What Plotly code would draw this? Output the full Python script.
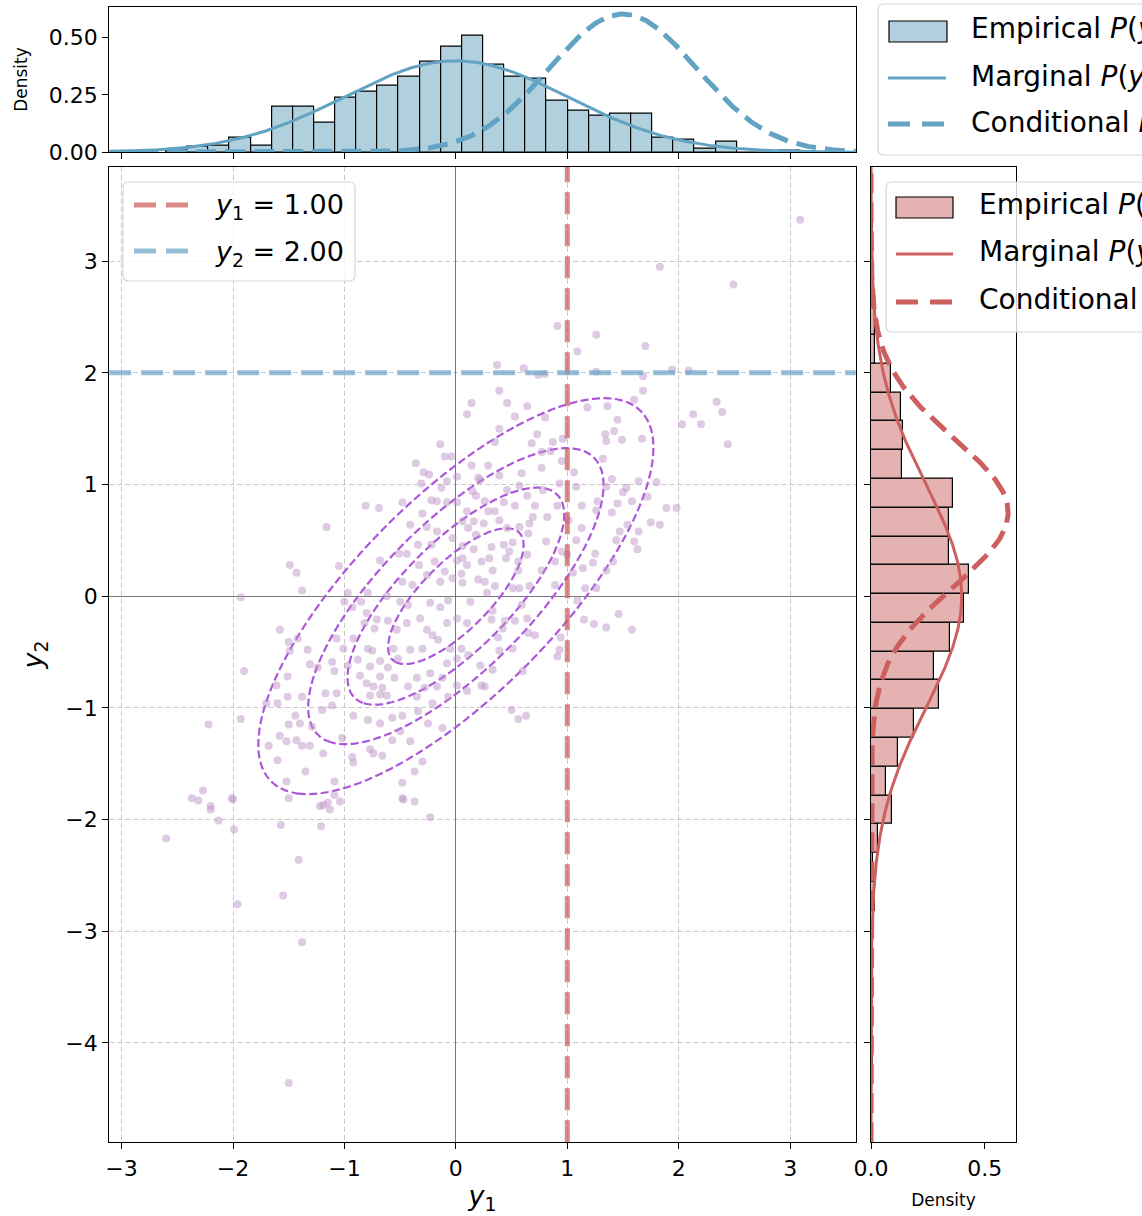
import numpy as np
import plotly.graph_objects as go

# ---------------- data ----------------
rho = 0.75
y1_given = 1.00
y2_given = 2.00

scatter_y1 = [3.09, 1.83, 2.49, 0.91, 1.26,
    1.09, 1.70, 0.37, 0.61, 0.74, 0.80, 1.26, 1.94, 2.09, 1.68, 1.68, 0.39, 1.60, 0.46, 0.64, 1.18, 1.36, 2.34, 2.39, 2.13,
    2.20, 2.03, 2.44, 0.53, 0.80, 1.45, 0.39, 0.73, 1.34, 1.42, 1.35, 1.49, 1.67, 0.35, 0.68, 0.87, 0.96, 0.77, 0.85, 1.32,
    0.95, 0.29, 0.77, 0.59, 1.06, 0.39, 1.40, 1.64, 1.80, 0.93, 1.08, 1.35, 0.22, 0.57, 0.46, 1.50, 1.53, 0.64, 0.78, 1.58,
    1.72, 1.89, 1.98, 0.26, 0.43, 0.71, 0.91, 1.13, 1.27, 1.45, 0.29, 0.35, 0.53, 1.26, 1.40, 0.69, 0.82, 1.01, 0.39, 0.25,
    1.75, 1.83, 1.54, 0.66, 1.13, 0.46, 0.57, 1.64, 1.47, 0.65, 1.44, 1.60, 1.08, 0.81, 0.51, 0.43, 0.32, 1.63, 0.48, 1.25,
    0.64, 0.95, 1.00, 0.45, 0.30, 1.41, 0.23, 1.23, 0.56, 0.89,
    0.14, 0.10, -0.14, -0.10, -0.04, -0.36, 0.14, -0.29, -0.24, 0.01, 0.20, -0.31, -0.08, -0.13, 0.15, -0.22, -0.17, -0.08,
    0.01, 0.18, -0.48, -0.81, -0.69, -0.30, 0.10, -0.41, -0.26, 0.06, 0.16, -1.16, -0.17, -0.03, 0.11, -0.34, -0.22, 0.06,
    0.16, -0.51, -0.44, -0.68, -0.19, 0.01, 0.06, -1.49, -1.05, -0.33, 0.10, 0.18, 0.05, -0.10, 0.20,
    -1.43, -1.38, -1.93, -1.58, -1.50, -1.42, -1.33, -1.49, -1.90, -1.31, -1.24, -1.11, -1.09, -1.51, -1.61, -1.17, -1.07,
    -1.51, -1.38, -1.70, -1.60, -1.11, -1.20, -1.44, -1.93, -2.22, -1.50, -1.40, -1.29, -1.58, -1.43, -1.52, -1.68, -1.38,
    -1.31, -1.19, -1.60, -1.35, -1.52, -1.09, -2.27, -2.01, -1.50, -1.09, -1.15, -2.20, -1.22,
    -1.00, -0.93, -0.85, -0.79, -0.97, -0.62, -0.48, -0.39, -0.26, -0.14, -0.03, 0.06, -0.50, -0.43, -0.23, -0.14, -0.07,
    0.13, -0.80, -0.71, -0.61, -0.82, -0.73, -0.44, -0.32, -0.26, -0.21, -0.16, -0.08, 0.01, 0.10, -0.92, -1.07, -0.53,
    -1.01, -0.79, -0.75, -0.56, -0.41, -0.30, -0.05, 0.05, -0.88, -0.68, -0.52, -0.97, -0.77, -0.61, -0.08, 0.01, 0.11,
    -0.86, -0.68, -0.55, -0.35, -0.23, -0.12, -0.80, -0.74, -0.66, -0.43, -0.28, -0.17, 0.01, 0.10, -0.77, -0.68, -0.62,
    -0.35, -0.21, -0.07, -0.92, -0.79, -0.68, -0.57, -0.48, -0.34, -0.25, -0.12, -0.50, -0.41, -0.57, -1.02, -0.93, -0.77,
    -0.74, -0.92, -0.66, -0.30, -0.37, -0.48, -0.48, -0.37,
    0.33, 0.26, 0.35, 0.51, 0.57, 0.66, 0.89, 0.28, 0.77, 0.56, 1.05, 1.14, 1.35, 1.16, 1.26, 1.09, 0.59, 0.33, 1.46, 0.32,
    0.44, 0.53, 0.64, 1.15, 1.24, 1.35, 1.58, 0.42, 0.65, 0.71, 0.38, 0.94, 0.93, 0.91, 0.39, 0.51, 0.33, 0.60, 0.23, 0.26,
    0.50, 0.56, 0.63, 0.22,
    -2.37, -2.31, -2.20, -2.13, -2.60, -2.00, -1.99, -1.57, -1.19, -1.13, -1.04, -1.21, -1.41, -1.55, -1.96, -1.38, -0.47,
    -0.23, -1.50]

scatter_y2 = [3.37, 2.95, 2.79, 2.42, 2.34,
    2.19, 2.24, 2.07, 2.04, 1.98, 1.99, 2.01, 2.03, 2.02, 1.97, 1.84, 1.84, 1.76, 1.73, 1.70, 1.69, 1.70, 1.74, 1.65, 1.63,
    1.54, 1.54, 1.36, 1.61, 1.60, 1.58, 1.50, 1.45, 1.45, 1.48, 1.39, 1.40, 1.41, 1.38, 1.37, 1.38, 1.41, 1.29, 1.30, 1.23,
    1.21, 1.17, 1.15, 1.10, 1.11, 1.08, 1.05, 1.03, 1.02, 1.01, 0.98, 0.98, 1.04, 0.99, 0.95, 0.93, 0.97, 0.90, 0.95, 0.85,
    0.89, 0.79, 0.79, 0.85, 0.84, 0.81, 0.81, 0.81, 0.85, 0.83, 0.76, 0.76, 0.81, 0.77, 0.75, 0.71, 0.71, 0.68, 0.68, 0.65,
    0.66, 0.64, 0.64, 0.65, 0.61, 0.61, 0.62, 0.58, 0.58, 0.56, 0.50, 0.49, 0.50, 0.49, 0.48, 0.46, 0.44, 0.42, 0.40, 0.38,
    0.37, 0.40, 0.37, 0.34, 0.34, 0.31, 0.31, 0.30, 0.31, 0.31,
    1.73, 1.63, 1.36, 1.25, 1.25, 1.19, 1.17, 1.11, 1.09, 1.07, 1.06, 1.01, 1.03, 0.97, 0.94, 0.86, 0.85, 0.84,
    0.84, 0.90, 0.84, 0.81, 0.79, 0.74, 0.76, 0.64, 0.62, 0.67, 0.67, 0.62, 0.58, 0.52, 0.61, 0.46, 0.46, 0.45,
    0.42, 0.38, 0.38, 0.32, 0.31, 0.32, 0.34, 0.28, 0.27, 0.28, 0.28, 0.55, 0.20, 0.22, 0.15,
    0.21, 0.05, -0.01, -0.30, -0.41, -0.38, -0.48, -0.49, -0.67, -0.61, -0.64, -0.59, -0.67, -0.72, -0.80, -0.87, -0.87,
    -0.90, -0.90, -0.96, -0.96, -0.98, -1.02, -1.07, -1.10, -1.15, -1.15, -1.14, -1.17, -1.25, -1.29, -1.30, -1.34, -1.34,
    -1.34, -1.41, -1.47, -1.57, -1.66, -1.66, -1.74, -1.81, -1.81, -1.78, -1.85, -1.88, -1.88,
    -0.05, -0.10, -0.05, 0.03, 0.03, 0.00, 0.13, 0.10, 0.19, 0.13, 0.16, 0.12, -0.05, -0.08, -0.06, -0.10, -0.04,
    -0.05, -0.15, -0.21, -0.22, -0.24, -0.29, -0.24, -0.20, -0.30, -0.35, -0.39, -0.24, -0.20, -0.24, -0.38, -0.38, -0.30,
    -0.47, -0.47, -0.49, -0.47, -0.48, -0.47, -0.47, -0.47, -0.57, -0.58, -0.56, -0.62, -0.63, -0.64, -0.60, -0.56, -0.53,
    -0.71, -0.72, -0.73, -0.73, -0.69, -0.73, -0.78, -0.81, -0.82, -0.81, -0.82, -0.81, -0.80, -0.85, -0.89, -0.88, -0.89,
    -0.90, -0.96, -0.90, -1.07, -1.11, -1.14, -1.09, -1.07, -1.03, -1.14, -1.18, -1.21, -1.30, -1.29, -1.27, -1.44, -1.37,
    -1.41, -1.49, -1.43, -1.48, -1.57, -1.67, -1.81, -1.84,
    0.23, 0.13, 0.09, 0.07, 0.07, 0.09, 0.10, 0.03, 0.23, 0.23, 0.21, 0.25, 0.23, 0.07, 0.07, -0.04, -0.08, -0.13, -0.16, -0.21,
    -0.22, -0.22, -0.20, -0.21, -0.25, -0.28, -0.30, -0.29, -0.33, -0.35, -0.37, -0.37, -0.48, -0.54, -0.49, -0.47, -0.66, -0.67,
    -0.80, -0.81, -1.02, -1.10, -1.07, -0.62,
    -1.81, -1.83, -1.91, -2.01, -2.17, -1.82, -2.09, -2.05, -1.87, -1.91, -1.84, -2.06, -2.36, -2.68, -2.76, -3.10, -1.82,
    -1.98, -4.36]

# histogram of y1 (top): 30 bins, density
y1_bin_start = -2.60
y1_bin_width = 0.1897
y1_density = [0.008, 0.026, 0.030, 0.065, 0.030, 0.200, 0.200, 0.130, 0.240, 0.265,
              0.290, 0.330, 0.395, 0.460, 0.510, 0.380, 0.330, 0.320, 0.225, 0.180,
              0.160, 0.170, 0.170, 0.065, 0.054, 0.015, 0.046, 0.0, 0.0, 0.008]

# histogram of y2 (right): 30 bins
y2_bin_start = -4.36
y2_bin_width = 0.2577
y2_density = [0.0097, 0.0, 0.0, 0.0, 0.0097, 0.0, 0.019, 0.0097, 0.030, 0.093,
              0.066, 0.117, 0.190, 0.298, 0.276, 0.348, 0.407, 0.431, 0.343, 0.343,
              0.361, 0.137, 0.139, 0.132, 0.090, 0.018, 0.019, 0.0097, 0.0097, 0.0097]

contour_levels = dict(start=0.05, end=0.2001, size=0.05)

y1_ticks = [-3, -2, -1, 0, 1, 2, 3]
y2_ticks = [-4, -3, -2, -1, 0, 1, 2, 3]

# ---------------- styles ----------------
W, H = 1142, 1216
X_RANGE = [-3.111, 3.589]
Y_RANGE = [-4.891, 3.846]
FONT = "DejaVu Sans"
BLUE = "rgb(98,163,196)"
BLUE_FILL = "rgb(175,208,220)"
RED = "rgb(205,95,95)"
RED_FILL = "rgb(229,178,178)"
VLINE_RED = "rgba(205,92,92,0.72)"
HLINE_BLUE = "rgba(110,165,200,0.72)"
PURPLE = "rgb(172,86,218)"
PT = "rgba(190,150,200,0.5)"


def px(x):
    return x / W


def py(y):
    return 1 - y / H


def pdf(v, m=0.0, s=1.0):
    v = np.asarray(v)
    return np.exp(-0.5 * ((v - m) / s) ** 2) / (s * np.sqrt(2 * np.pi))


cond_sd = np.sqrt(1 - rho ** 2)
g1 = np.linspace(X_RANGE[0], X_RANGE[1], 500)
g2 = np.linspace(Y_RANGE[0], Y_RANGE[1], 600)

fig = go.Figure()

# main scatter
fig.add_trace(go.Scatter(x=scatter_y1, y=scatter_y2, mode="markers",
                         marker=dict(size=8, color=PT, line=dict(width=0)),
                         xaxis="x", yaxis="y", showlegend=False))

# contour of joint density
cx = np.linspace(X_RANGE[0], X_RANGE[1], 260)
cy = np.linspace(Y_RANGE[0], Y_RANGE[1], 320)
XX, YY = np.meshgrid(cx, cy)
Z = np.exp(-(XX ** 2 - 2 * rho * XX * YY + YY ** 2) / (2 * (1 - rho ** 2))) / (2 * np.pi * cond_sd)
fig.add_trace(go.Contour(x=cx, y=cy, z=Z, contours=dict(coloring="lines", **contour_levels),
                         colorscale=[[0, PURPLE], [1, PURPLE]], showscale=False,
                         line=dict(width=2.2, dash="8px,3.5px"), xaxis="x", yaxis="y",
                         hoverinfo="skip", showlegend=False))

# reference lines
fig.add_trace(go.Scatter(x=[y1_given, y1_given], y=Y_RANGE, mode="lines",
                         line=dict(color=VLINE_RED, width=5, dash="22px,10px"),
                         xaxis="x", yaxis="y", showlegend=False))
fig.add_trace(go.Scatter(x=X_RANGE, y=[y2_given, y2_given], mode="lines",
                         line=dict(color=HLINE_BLUE, width=5, dash="22px,10px"),
                         xaxis="x", yaxis="y", showlegend=False))

# top histogram + curves
c1 = [y1_bin_start + (i + 0.5) * y1_bin_width for i in range(len(y1_density))]
fig.add_trace(go.Bar(x=c1, y=y1_density, width=y1_bin_width,
                     marker=dict(color=BLUE_FILL, line=dict(color="black", width=1.2)),
                     xaxis="x2", yaxis="y2", showlegend=False))
fig.add_trace(go.Scatter(x=g1, y=pdf(g1), mode="lines", line=dict(color=BLUE, width=3),
                         xaxis="x2", yaxis="y2", showlegend=False))
fig.add_trace(go.Scatter(x=g1, y=pdf(g1, rho * y2_given, cond_sd), mode="lines",
                         line=dict(color=BLUE, width=5, dash="20px,9px"),
                         xaxis="x2", yaxis="y2", showlegend=False))

# right histogram + curves
c2 = [y2_bin_start + (i + 0.5) * y2_bin_width for i in range(len(y2_density))]
fig.add_trace(go.Bar(y=c2, x=y2_density, width=y2_bin_width, orientation="h",
                     marker=dict(color=RED_FILL, line=dict(color="black", width=1.2)),
                     xaxis="x3", yaxis="y3", showlegend=False))
fig.add_trace(go.Scatter(x=pdf(g2), y=g2, mode="lines", line=dict(color=RED, width=3),
                         xaxis="x3", yaxis="y3", showlegend=False))
fig.add_trace(go.Scatter(x=pdf(g2, rho * y1_given, cond_sd), y=g2, mode="lines",
                         line=dict(color=RED, width=5, dash="20px,9px"),
                         xaxis="x3", yaxis="y3", showlegend=False))

tickfont = dict(family=FONT, size=22, color="black")
common = dict(showline=True, linecolor="black", linewidth=1.2, mirror=True,
              ticks="outside", ticklen=6, tickwidth=1.2, tickcolor="black",
              tickfont=tickfont)

main_x_dom = [px(109.2), px(855.8)]
main_y_dom = [py(1142.3), py(166.7)]

fig.update_layout(
    width=W, height=H, margin=dict(l=0, r=0, t=0, b=0, autoexpand=False),
    paper_bgcolor="white", plot_bgcolor="white", bargap=0,
    font=dict(family=FONT, color="black"),
    xaxis=dict(domain=main_x_dom, range=X_RANGE, anchor="y", tickvals=y1_ticks,
               showgrid=True, gridcolor="rgb(200,200,200)", griddash="5px,3px", gridwidth=1,
               zeroline=True, zerolinecolor="rgb(120,120,120)", zerolinewidth=1,
               title=dict(text="<i>y</i><sub>1</sub>", font=dict(family=FONT, size=27), standoff=6),
               **common),
    yaxis=dict(domain=main_y_dom, range=Y_RANGE, anchor="x", tickvals=y2_ticks,
               showgrid=True, gridcolor="rgb(200,200,200)", griddash="5px,3px", gridwidth=1,
               zeroline=True, zerolinecolor="rgb(120,120,120)", zerolinewidth=1,
               title=dict(text="<i>y</i><sub>2</sub>", font=dict(family=FONT, size=27), standoff=14),
               **common),
    xaxis2=dict(domain=main_x_dom, range=X_RANGE, anchor="y2", tickvals=y1_ticks,
                showticklabels=False, showgrid=False, zeroline=False, **common),
    yaxis2=dict(domain=[py(152.3), py(6.7)], range=[0, 0.635], anchor="x2",
                tickvals=[0, 0.25, 0.5], tickformat=".2f", showgrid=False, zeroline=False,
                title=dict(text="Density", font=dict(family=FONT, size=17), standoff=16),
                **common),
    xaxis3=dict(domain=[px(871), px(1016)], range=[0, 0.6377], anchor="y3",
                tickvals=[0, 0.5], tickformat=".1f", showgrid=False, zeroline=False,
                title=dict(text="Density", font=dict(family=FONT, size=17), standoff=14),
                **common),
    yaxis3=dict(domain=main_y_dom, range=Y_RANGE, anchor="x3", tickvals=y2_ticks,
                showticklabels=False, showgrid=False, zeroline=False, **common),
)

# ---------------- manual legends ----------------
shapes = []
annotations = []


def box(x0, y0, x1, y1, r=6):
    X0, X1 = px(x0), px(x1)
    Y0, Y1 = py(y0), py(y1)
    rx, ry = r / W, r / H
    path = (f"M{X0 + rx},{Y0} L{X1 - rx},{Y0} Q{X1},{Y0} {X1},{Y0 - ry} "
            f"L{X1},{Y1 + ry} Q{X1},{Y1} {X1 - rx},{Y1} L{X0 + rx},{Y1} "
            f"Q{X0},{Y1} {X0},{Y1 + ry} L{X0},{Y0 - ry} Q{X0},{Y0} {X0 + rx},{Y0} Z")
    shapes.append(dict(type="path", path=path, xref="paper", yref="paper", layer="above",
                       fillcolor="rgba(255,255,255,0.8)", line=dict(color="rgb(215,215,215)", width=1.2)))


def rect_icon(x0, y0, x1, y1, fill):
    shapes.append(dict(type="rect", xref="paper", yref="paper", layer="above",
                       x0=px(x0), x1=px(x1), y0=py(y1), y1=py(y0),
                       fillcolor=fill, line=dict(color="black", width=1.2)))


def line_icon(x0, x1, y, color, width, dash="solid"):
    shapes.append(dict(type="line", xref="paper", yref="paper", layer="above",
                       x0=px(x0), x1=px(x1), y0=py(y), y1=py(y),
                       line=dict(color=color, width=width, dash=dash)))


def label(x, y, text, size=28):
    annotations.append(dict(x=px(x), y=py(y), xref="paper", yref="paper", text=text,
                            showarrow=False, xanchor="left", yanchor="middle",
                            font=dict(family=FONT, size=size, color="black")))


# legend for top panel
box(878, 4, 1175, 155)
rect_icon(889, 21, 947, 42, BLUE_FILL)
line_icon(888, 946, 78, BLUE, 3)
line_icon(888, 946, 124, BLUE, 5, "22px,12px")
label(969, 31, "Empirical <i>P</i>(<i>y</i><sub>1</sub>)")
label(969, 78, "Marginal <i>P</i>(<i>y</i><sub>1</sub>)")
label(969, 124, f"Conditional <i>P</i>(<i>y</i><sub>1</sub>|<i>y</i><sub>2</sub>={y2_given:.2f})")

# legend for right panel
box(886, 182, 1175, 332)
rect_icon(896, 197, 953, 218, RED_FILL)
line_icon(896, 953, 254, RED, 3)
line_icon(896, 953, 302, RED, 5, "22px,12px")
label(977, 207, "Empirical <i>P</i>(<i>y</i><sub>2</sub>)")
label(977, 254, "Marginal <i>P</i>(<i>y</i><sub>2</sub>)")
label(977, 302, f"Conditional <i>P</i>(<i>y</i><sub>2</sub>|<i>y</i><sub>1</sub>={y1_given:.2f})")

# legend for main panel
box(123, 182, 355, 281)
line_icon(134, 190, 205, VLINE_RED, 5, "22px,10px")
line_icon(134, 190, 251, HLINE_BLUE, 5, "22px,10px")
label(213, 207, f"<i>y</i><sub>1</sub> = {y1_given:.2f}", size=27)
label(213, 253, f"<i>y</i><sub>2</sub> = {y2_given:.2f}", size=27)

fig.update_layout(shapes=shapes, annotations=annotations)

fig.write_html("out.html")
